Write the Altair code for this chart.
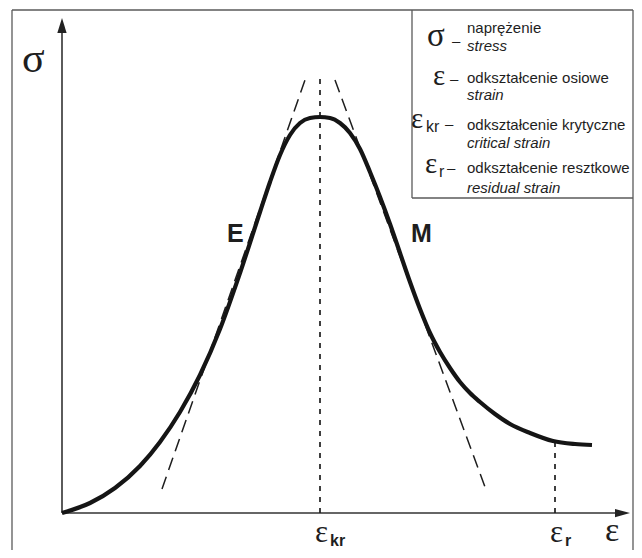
import altair as alt
import pandas as pd

# ---------------- data (arbitrary units) ----------------
# stress-strain curve sigma(eps)
eps = [0, 28, 53, 78, 98, 118, 138, 158, 178, 198, 208, 218, 228, 238, 248, 258,
       268, 278, 288, 298, 308, 318, 328, 338, 348, 358, 368, 378, 388, 398, 408,
       418, 433, 448, 468, 491, 513, 530]
sigma = [0, 10, 25, 47, 71, 101, 138, 184, 240, 301, 331, 358, 378, 390, 395, 396,
         395, 390, 380, 364, 341, 316, 289, 260, 231, 204, 180, 161, 145, 131, 120,
         111, 99, 89, 80, 72, 69, 68]

eps_kr = 258          # critical strain
eps_r = 493           # residual strain
sigma_r = 71          # stress at residual strain
sigma_kr_top = 435    # top of the dashed eps_kr marker

# tangent lines E and M
tan_E_eps = [100, 243]
tan_E_sig = [24, 433]
tan_M_eps = [273, 423]
tan_M_sig = [433, 26]

# axis extents
x_axis_end = 560
y_axis_end = 485

legend_symbols = ["σ", "ε", "ε", "ε"]
legend_subs = ["kr", "r"]
legend_pl = ["naprężenie", "odkształcenie osiowe", "odkształcenie krytyczne",
             "odkształcenie resztkowe"]
legend_en = ["stress", "strain", "critical strain", "residual strain"]

# ---------------- layout ----------------
W, H = 626, 542
XD = [-54, 572]
YD = [-37, 505]
xs = alt.Scale(domain=XD, nice=False, zero=False)
ys = alt.Scale(domain=YD, nice=False, zero=False)

SANS = "'Liberation Sans', Arial, sans-serif"
SERIF = "'Liberation Serif', 'DejaVu Serif', serif"
INK = "#1e1e1e"


def X(f="x"):
    return alt.X(f"{f}:Q", scale=xs, axis=None)


def Y(f="y"):
    return alt.Y(f"{f}:Q", scale=ys, axis=None)


# outer frame and legend box
frame = pd.DataFrame({
    "x": [-50, -50, 571, 350, 350],
    "y": [503, 503, 503, 503, 315],
    "x2": [571, -50, 571, 350, 571],
    "y2": [503, -37, -37, 315, 315],
})
frame_layer = alt.Chart(frame).mark_rule(color="#5a5a5a", strokeWidth=1.3).encode(
    x=X(), y=Y(), x2="x2:Q", y2="y2:Q")

axes = pd.DataFrame({"x": [0, 0], "y": [0, 0], "x2": [x_axis_end, 0], "y2": [0, y_axis_end]})
axes_layer = alt.Chart(axes).mark_rule(color="#333333", strokeWidth=1.6).encode(
    x=X(), y=Y(), x2="x2:Q", y2="y2:Q")

arrow_up = alt.Chart(pd.DataFrame({"x": [0], "y": [y_axis_end + 2.5]})).mark_point(
    shape="M0,-1L0.62,1L-0.62,1Z", filled=True, size=225, color="#222222", opacity=1,
    strokeWidth=0).encode(x=X(), y=Y())
arrow_right = alt.Chart(pd.DataFrame({"x": [x_axis_end + 0.5], "y": [0]})).mark_point(
    shape="M1,0L-1,0.55L-1,-0.55Z", filled=True, size=225, color="#222222", opacity=1,
    strokeWidth=0).encode(x=X(), y=Y())

markers = pd.DataFrame({"x": [eps_kr, eps_r], "y": [0, 0], "y2": [sigma_kr_top, sigma_r]})
marker_layer = alt.Chart(markers).mark_rule(
    color=INK, strokeWidth=1.7, strokeDash=[5, 6]).encode(x=X(), y=Y(), y2="y2:Q")

tangents = pd.DataFrame({
    "x": tan_E_eps + tan_M_eps,
    "y": tan_E_sig + tan_M_sig,
    "k": ["E", "E", "M", "M"],
})
tangent_layer = alt.Chart(tangents).mark_line(
    color=INK, strokeWidth=1.5, strokeDash=[13, 7]).encode(
    x=X(), y=Y(), detail="k:N")

curve = pd.DataFrame({"x": eps, "y": sigma})
curve_layer = alt.Chart(curve).mark_line(
    color="#151515", strokeWidth=4.2, interpolate="monotone",
    strokeCap="butt").encode(x=X(), y=Y(), order="x:Q")

# ---------------- texts ----------------
serif_txt = pd.DataFrame({
    "t": ["σ", "ε", "ε", "ε"] + legend_symbols,
    "x": [-40, 543, 253, 488, 365, 371, 349, 363],
    "y": [441, -28, -29, -29, 467, 428, 385, 340],
    "fs": [42, 34, 31, 31, 33, 29, 29, 29],
})
serif_layer = alt.Chart(serif_txt).mark_text(
    font=SERIF, align="left", baseline="alphabetic", color=INK).encode(
    x=X(), y=Y(), text="t:N", size=alt.Size("fs:Q", scale=None))

reg_txt = pd.DataFrame({
    "t": legend_pl + ["–", "–", "–", "–"] + legend_subs,
    "x": [405, 405, 405, 405, 390, 388, 383, 385, 364, 377],
    "y": [480, 430, 383, 340, 467, 429, 384, 340, 381, 336],
    "fs": [15, 15, 15, 15, 15, 15, 15, 15, 16, 16],
})
reg_layer = alt.Chart(reg_txt).mark_text(
    font=SANS, align="left", baseline="alphabetic", color=INK).encode(
    x=X(), y=Y(), text="t:N", size=alt.Size("fs:Q", scale=None))

it_txt = pd.DataFrame({
    "t": legend_en,
    "x": [405, 405, 405, 405],
    "y": [462, 413, 365, 320],
})
it_layer = alt.Chart(it_txt).mark_text(
    font=SANS, align="left", baseline="alphabetic", color=INK, fontSize=15,
    fontStyle="italic").encode(x=X(), y=Y(), text="t:N")

bold_txt = pd.DataFrame({
    "t": ["E", "M", "kr", "r"],
    "x": [165, 349, 268, 503],
    "y": [271, 271, -33, -33],
    "fs": [25, 25, 16, 16],
})
bold_layer = alt.Chart(bold_txt).mark_text(
    font=SANS, align="left", baseline="alphabetic", color=INK,
    fontWeight="bold").encode(
    x=X(), y=Y(), text="t:N", size=alt.Size("fs:Q", scale=None))

chart = alt.layer(
    frame_layer, axes_layer, arrow_up, arrow_right, marker_layer, tangent_layer,
    curve_layer, serif_layer, reg_layer, it_layer, bold_layer,
).properties(
    width=W, height=H, autosize=alt.AutoSizeParams(type="none"), padding=0,
    background="white",
).configure_view(stroke=None)

chart.save("out.html", embed_options={"renderer": "svg", "actions": False})
